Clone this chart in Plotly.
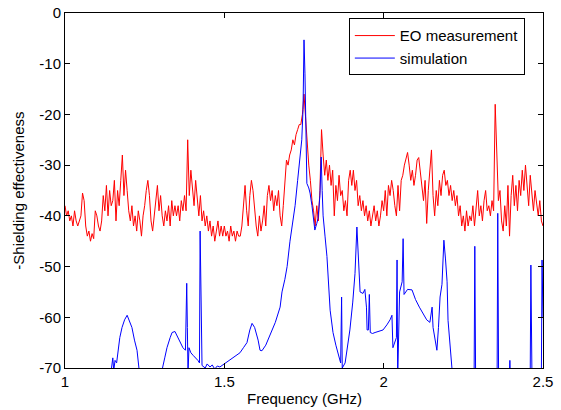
import numpy as np
import plotly.graph_objects as go

# EO measurement, sampled every 5 MHz from 1 to 2.5 GHz
meas_freq = np.round(np.arange(1.0, 2.5001, 0.005), 3)
meas_db = [
    -38, -40, -39, -41, -40, -42, -39, -41, -42, -41,
    -40, -35.5, -37, -42, -44, -43, -45, -43.5, -44.5, -39,
    -40, -42, -43, -41, -36, -39, -34, -40, -35, -38,
    -37, -33, -41, -35, -38, -33, -28, -36, -31, -35,
    -39, -41, -38, -42, -40, -43, -39, -41, -44, -40,
    -38, -35, -33, -36, -41, -43, -40, -37, -34, -39,
    -36, -40, -42, -39, -41, -38, -42, -37, -40, -38,
    -40, -38, -41, -37, -39, -36, -39, -25, -36, -31,
    -34, -38, -33, -37, -40, -36, -41, -39, -42, -40,
    -43, -41, -44, -42, -45, -43, -41, -44, -42, -44,
    -42, -44, -43, -45, -42, -44, -43, -45, -43, -44,
    -44, -42, -37, -34, -39, -42, -36, -33, -35, -39,
    -42, -44, -40, -43, -41, -38, -42, -36, -34, -37,
    -35, -39, -36, -38, -35, -40, -42, -38, -33, -29,
    -30, -28, -27, -25, -26, -24, -23, -22, -22, -20,
    -16, -21, -27, -30, -33, -37, -39, -42, -38, -41,
    -35, -23, -28, -32, -29, -33, -30, -34, -31, -40,
    -34, -37, -32, -36, -35, -39, -37, -40, -33, -31,
    -34, -31, -35, -33, -38, -36, -39, -37, -40, -38,
    -41, -39, -42, -40, -38, -41, -39, -42, -40, -37,
    -39, -35, -40, -34, -36, -33, -35, -38, -40, -34,
    -39, -33, -32, -30, -28.5, -27.5, -30, -33, -31, -34,
    -32, -29, -28.5, -31, -34, -37, -33, -41.5, -35, -30,
    -27, -36, -40, -35, -38, -33, -36, -32, -31, -34,
    -33, -36, -34, -37, -35, -38, -36, -40, -38, -42,
    -40, -43, -39, -42, -40, -41, -38, -42, -39, -35,
    -40, -38, -41, -37, -35, -39, -38, -40, -37, -39,
    -18, -30, -37, -35, -41, -43, -38, -42, -34, -44,
    -36, -32, -38, -34, -39, -33, -36, -31, -35, -30,
    -34, -38, -32, -36, -39, -35, -38, -40, -37, -41,
    -42,
]

# simulation (values below -70 fall outside the axes)
sim_freq = [
    1.000, 1.140, 1.146, 1.150, 1.153, 1.157, 1.162, 1.166, 1.172, 1.179,
    1.187, 1.195, 1.200, 1.210, 1.218, 1.226, 1.232, 1.240,
    1.300, 1.306, 1.313, 1.320, 1.330, 1.336, 1.345, 1.350, 1.355, 1.362,
    1.370, 1.378, 1.380, 1.382, 1.384, 1.386, 1.389, 1.395, 1.402, 1.410,
    1.417, 1.422, 1.424, 1.427, 1.430, 1.440, 1.446, 1.455, 1.462, 1.470,
    1.478, 1.486, 1.495, 1.505, 1.518, 1.530, 1.540, 1.549, 1.560, 1.571,
    1.580, 1.587, 1.595, 1.606, 1.612, 1.618, 1.630, 1.643, 1.660, 1.675,
    1.681, 1.690, 1.697, 1.706, 1.714, 1.722, 1.730, 1.737, 1.743, 1.747,
    1.750, 1.753, 1.756, 1.759, 1.765, 1.769, 1.775, 1.784, 1.790, 1.794,
    1.800, 1.804, 1.807, 1.810, 1.816, 1.822, 1.832, 1.841, 1.850, 1.857,
    1.865, 1.868, 1.870, 1.879, 1.887, 1.894, 1.903, 1.910, 1.916, 1.921,
    1.926, 1.935, 1.941, 1.946, 1.948, 1.952, 1.955, 1.958, 1.965, 1.973,
    1.985, 1.998, 2.010, 2.020, 2.026, 2.029, 2.040, 2.042, 2.044, 2.050,
    2.058, 2.061, 2.064, 2.075, 2.089, 2.100, 2.112, 2.123, 2.135, 2.145,
    2.152, 2.155, 2.160, 2.167, 2.172, 2.177, 2.183, 2.189, 2.194, 2.199,
    2.202, 2.208, 2.214, 2.222,
    2.280, 2.284, 2.286, 2.289,
    2.340, 2.356, 2.358, 2.361,
    2.392, 2.396, 2.400,
    2.455, 2.460, 2.462, 2.466,
    2.490, 2.495, 2.497, 2.500,
]
sim_db = [
    -80, -76, -70, -68, -70.5, -68.5, -69, -66.5, -64, -62,
    -60.5, -59.6, -60.5, -62, -64.5, -66.5, -70, -75,
    -76, -70, -68, -66, -64, -63, -62.8, -63.5, -64, -65,
    -66, -66.5, -56, -53.3, -62, -71, -66, -67, -67.5, -68,
    -68.5, -69, -43, -56, -69.5, -70, -69.2, -69.8, -69.4, -70.2,
    -69.6, -69.8, -69.4, -69, -68.5, -68, -67.5, -67, -66, -65,
    -62.5, -61.2, -62, -64.5, -66.5, -66.6, -65.5, -63.5, -61, -58,
    -55, -52.5, -50, -45, -41.5, -38, -33, -28, -25, -19,
    -5.3, -12, -23.7, -33.6, -34.5, -35.5, -38, -42.8, -41.5, -40.5,
    -36, -28.4, -35, -40, -44, -48, -58.6, -63, -65.5, -67,
    -69, -56, -70, -69, -65.5, -62.5, -57, -51.4, -42.2, -49,
    -55, -55.3, -54.5, -58, -62.5, -62.5, -55.5, -63, -63.2, -63,
    -62.8, -62.5, -61.5, -60.5, -59.6, -66, -64, -48.7, -72, -55,
    -53, -44.5, -55.5, -54.5, -54.6, -56.5, -58, -59.3, -60.5, -61,
    -58, -62, -64, -66.5, -62, -56, -53.5, -44.8, -48.5, -53,
    -60.6, -66, -70, -76,
    -78, -70, -46, -76,
    -78, -72, -39.5, -76,
    -76, -68.5, -76,
    -78, -70, -49.7, -76,
    -78, -70, -48.7, -60,
]

x_ticks = [1, 1.5, 2, 2.5]
x_tick_labels = ['1', '1.5', '2', '2.5']
y_ticks = [0, -10, -20, -30, -40, -50, -60, -70]
y_tick_labels = ['0', '-10', '-20', '-30', '-40', '-50', '-60', '-70']

fig = go.Figure()
fig.add_trace(go.Scatter(x=meas_freq, y=meas_db, mode='lines', name='EO measurement',
                         line=dict(color='#ff0000', width=1)))
fig.add_trace(go.Scatter(x=sim_freq, y=sim_db, mode='lines', name='simulation',
                         line=dict(color='#0000ff', width=1)))

axis_style = dict(showline=True, linecolor='black', linewidth=1, mirror='ticks',
                  ticks='inside', ticklen=5, tickcolor='black', showgrid=False,
                  zeroline=False, automargin=False, ticklabeloverflow='allow',
                  tickfont=dict(size=15, color='black'))

fig.update_xaxes(range=[1, 2.5], tickvals=x_ticks, ticktext=x_tick_labels, **axis_style)
fig.update_yaxes(range=[-70, 0], tickvals=y_ticks, ticktext=y_tick_labels, **axis_style)

# axis titles as annotations so the plot box stays where it is in the original
fig.add_annotation(text='Frequency (GHz)', xref='paper', yref='paper', x=0.5, y=-0.085,
                   xanchor='center', yanchor='middle', showarrow=False,
                   font=dict(size=15, color='black'))
fig.add_annotation(text='-Shielding effectiveness', xref='paper', yref='paper', x=-0.098, y=0.5,
                   xanchor='center', yanchor='middle', textangle=-90, showarrow=False,
                   font=dict(size=15, color='black'))

fig.update_layout(
    width=561, height=410,
    margin=dict(l=65, r=18, t=13, b=42),
    paper_bgcolor='white', plot_bgcolor='white',
    font=dict(family='Liberation Sans, Arial, sans-serif', size=15, color='black'),
    legend=dict(x=0.962, y=0.985, xanchor='right', yanchor='top',
                bordercolor='black', borderwidth=1, bgcolor='white',
                font=dict(size=15), itemwidth=40, tracegroupgap=0),
    showlegend=True,
)

# drop the page's default body margin so the figure sits at the window corner
fig.write_html("out.html", config={'displayModeBar': False},
               post_script="document.body.style.margin='0px';")
